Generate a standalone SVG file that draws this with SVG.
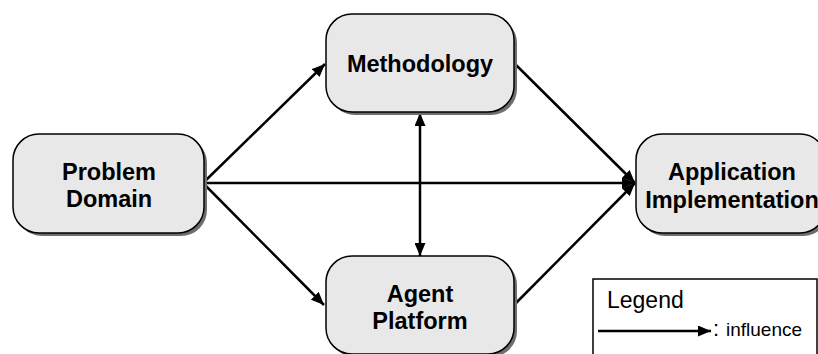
<svg xmlns="http://www.w3.org/2000/svg" width="818" height="354" viewBox="0 0 818 354">
<style>
.shadow{fill:#6e6e6e;}
.box{fill:#e8e8e8;stroke:#000;stroke-width:1.5;}
.lbl{font-family:"Liberation Sans",Arial,sans-serif;font-weight:bold;font-size:23.5px;fill:#000;text-anchor:middle;}
.edge{stroke:#000;stroke-width:2.5;fill:none;}
.leg{font-family:"Liberation Sans",Arial,sans-serif;fill:#000;}
</style>
<defs>
<marker id="ah" viewBox="0 0 13 11" refX="13" refY="5.5" markerWidth="13" markerHeight="11" markerUnits="userSpaceOnUse" orient="auto-start-reverse">
<path d="M0,0 L13,5.5 L0,11 Z" fill="#000"/>
</marker>
</defs>
<rect width="818" height="354" fill="#fff"/>
<g id="connectors">
<line class="edge" x1="203" y1="183" x2="325" y2="64" marker-end="url(#ah)"/>
<line class="edge" x1="203" y1="183" x2="324" y2="305" marker-end="url(#ah)"/>
<line class="edge" x1="203" y1="183" x2="635" y2="183" marker-end="url(#ah)"/>
<line class="edge" x1="514" y1="63" x2="635" y2="183" marker-end="url(#ah)"/>
<line class="edge" x1="514" y1="305" x2="635" y2="183" marker-end="url(#ah)"/>
<line class="edge" x1="420" y1="113" x2="420" y2="256" marker-start="url(#ah)" marker-end="url(#ah)"/>
</g>
<g id="problem-domain">
<rect class="shadow" x="16" y="137" width="191" height="99" rx="26"/>
<rect class="box" x="13" y="134" width="191" height="99" rx="26"/>
<text class="lbl" x="109" y="180">Problem</text>
<text class="lbl" x="109" y="207">Domain</text>
</g>
<g id="methodology">
<rect class="shadow" x="329" y="17" width="188" height="98" rx="26"/>
<rect class="box" x="326" y="14" width="188" height="98" rx="26"/>
<text class="lbl" x="420" y="72">Methodology</text>
</g>
<g id="agent-platform">
<rect class="shadow" x="329" y="259" width="188" height="98" rx="26"/>
<rect class="box" x="326" y="256" width="188" height="98" rx="26"/>
<text class="lbl" x="420" y="302">Agent</text>
<text class="lbl" x="420" y="329">Platform</text>
</g>
<g id="application-implementation">
<rect class="shadow" x="639" y="137" width="190" height="99" rx="26"/>
<rect class="box" x="636" y="134" width="190" height="99" rx="26"/>
<text class="lbl" x="732" y="180">Application</text>
<text class="lbl" x="732" y="208">Implementation</text>
</g>
<g id="legend">
<rect x="593" y="279" width="224" height="90" fill="#fff" stroke="#000" stroke-width="1.5"/>
<text class="leg" x="607" y="308" font-size="23">Legend</text>
<line class="edge" x1="598" y1="331" x2="711" y2="331" stroke-width="3" marker-end="url(#ah)"/>
<text class="leg" x="713" y="336" font-size="22">:</text>
<text class="leg" x="726" y="336" font-size="19">influence</text>
</g>
</svg>
